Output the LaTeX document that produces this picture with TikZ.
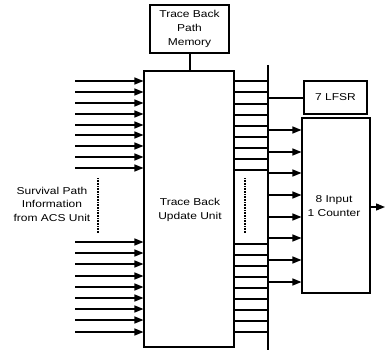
\documentclass[tikz,border=0pt]{standalone}
\usepackage{fontspec}
\setmainfont{Liberation Sans}[FakeStretch=1.2]
\usetikzlibrary{arrows.meta}
\begin{document}
\begin{tikzpicture}[x=1pt,y=-1pt,line width=1.3pt,
  box/.style={draw,line width=1.1pt,inner sep=0pt,font=\fontsize{10}{14}\selectfont,align=center},
  arr/.style={-{Triangle[length=9pt,width=7pt]}},
  dots/.style={line width=1.2pt,dash pattern=on 1pt off 0.6pt}]
\useasboundingbox (0,0) rectangle (385,350);
% boxes
\node[box,minimum width=79pt,minimum height=48pt] (mem) at (189.5,29) {Trace Back\\Path\\Memory};
\node[box,minimum width=90pt,minimum height=276pt] (main) at (189,209) {};
\node[font=\fontsize{10}{14}\selectfont,align=center] (mainlbl) at (190,210) {Trace Back\\Update Unit};
\node[box,minimum width=63pt,minimum height=33pt] (lfsr) at (335.5,97.5) {7 LFSR};
\node[box,minimum width=68pt,minimum height=175pt] (cnt) at (336,205.5) {};
\node[font=\fontsize{10}{14}\selectfont,align=center] (cntlbl) at (334,206) {8 Input\\1 Counter};
\node[font=\fontsize{10}{13.5}\selectfont,align=center] (surv) at (52,204) {Survival Path\\Information\\from ACS Unit};
% memory to main
\draw (mem.south -| 190,0) -- (main.north -| 190,0);
% bus
\coordinate (busT) at (268,65);
\coordinate (busB) at (268,350);
\draw (busT) -- (busB);
% input arrows
\foreach \y [count=\i] in {81,92,103,114,125,135,146,157,168,242,253,264,276,287,298,309,320,332}{
  \coordinate (s\i) at (75,\y);
  \draw[arr] (s\i) -- (s\i -| main.west);
}
% bus lines
\foreach \y [count=\i] in {81,92,104,115,126,137,148,159,170,244,255,266,277,288,299,310,321,332}{
  \coordinate (b\i) at (268,\y);
  \draw (b\i -| main.east) -- (b\i);
}
% dotted vertical markers
\coordinate (d1) at (98,178); \coordinate (d2) at (98,233);
\draw[dots] (d1) -- (d2);
\coordinate (e1) at (245,178); \coordinate (e2) at (245,233);
\draw[dots] (e1) -- (e2);
% LFSR link
\draw (lfsr.west |- 0,98) -- (busT |- 0,98);
% counter inputs
\foreach \y [count=\i] in {130,152,173,195,217,238,260,282}{
  \coordinate (c\i) at (268,\y);
  \draw[arr] (c\i) -- (c\i -| cnt.west);
}
% output
\coordinate (out) at (385,207);
\draw[arr] (cnt.east |- out) -- (out);
\end{tikzpicture}
\end{document}
